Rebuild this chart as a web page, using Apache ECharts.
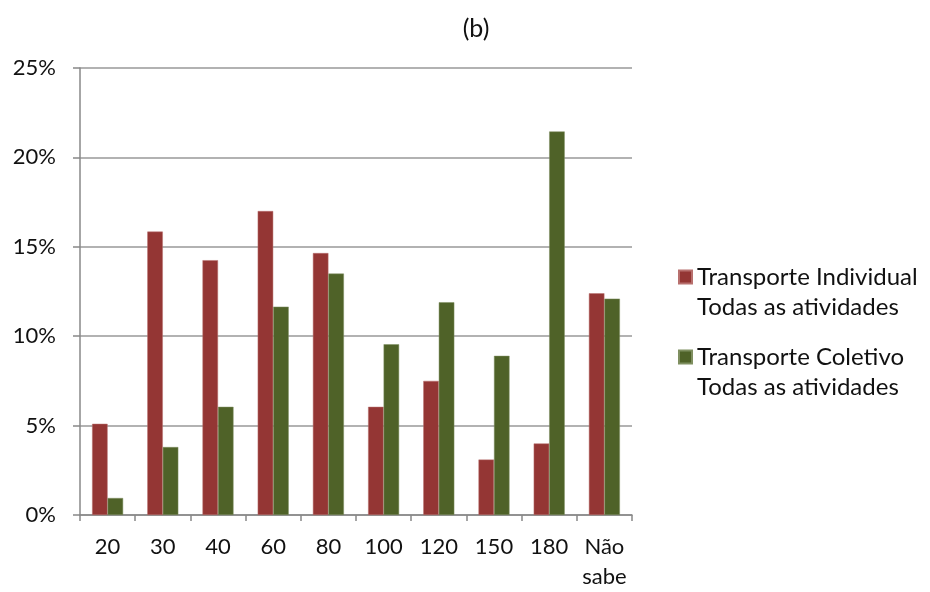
<!DOCTYPE html>
<html><head><meta charset="utf-8">
<script src="https://cdn.jsdelivr.net/npm/echarts@6/dist/echarts.min.js"></script>
<style>html,body{margin:0;padding:0;background:#fff}#c{width:930px;height:592px}</style>
</head><body><div id="c"></div>
<script>
const categories = ['20','30','40','60','80','100','120','150','180','Não\nsabe'];
const individual = [5.1, 15.85, 14.25, 17.0, 14.65, 6.05, 7.5, 3.1, 4.0, 12.4];
const coletivo = [0.95, 3.8, 6.05, 11.65, 13.5, 9.55, 11.9, 8.9, 21.45, 12.1];
const seriesNames = ['Transporte Individual\nTodas as atividades', 'Transporte Coletivo\nTodas as atividades'];
const yTicks = [0, 5, 10, 15, 20, 25];

const font = 'Lato, "Open Sans", sans-serif';
const chart = echarts.init(document.getElementById('c'));
chart.setOption({
  animation: false,
  backgroundColor: '#fff',
  title: { text: '(b)', left: 471, top: 11, textAlign: 'center',
    textStyle: { fontFamily: font, fontSize: 25, fontWeight: 'normal', color: '#111' } },
  grid: { left: 80, right: 298, top: 68, bottom: 75 },
  legend: {
    orient: 'vertical', left: 673, top: 227, itemWidth: 13, itemHeight: 13, itemGap: -10,
    icon: 'rect',
    formatter: name => ' \n' + name,
    textStyle: { fontFamily: font, fontSize: 24, color: '#111', lineHeight: 30 },
    data: seriesNames
  },
  xAxis: {
    type: 'category', data: categories,
    axisLine: { lineStyle: { color: '#888', width: 1.5 } },
    axisTick: { show: true, length: 6, lineStyle: { color: '#888', width: 1.5 } },
    axisLabel: { interval: 0, hideOverlap: false, fontFamily: font, fontSize: 22, color: '#111', margin: 17, lineHeight: 30 }
  },
  yAxis: {
    type: 'value', min: 0, max: 25, interval: 5,
    axisLine: { show: true, lineStyle: { color: '#888', width: 1.5 } },
    axisTick: { show: true, inside: false, length: 7, lineStyle: { color: '#888', width: 1.5 } },
    splitLine: { lineStyle: { color: '#999', width: 1.5 } },
    axisLabel: { fontFamily: font, fontSize: 22, color: '#111', margin: 24,
      formatter: v => yTicks.includes(v) ? v + '%' : '' }
  },
  series: [
    { name: seriesNames[0], type: 'bar', data: individual, barWidth: 15.5, barGap: '0%',
      itemStyle: { color: '#943634', borderColor: '#b8706e', borderWidth: 0.5 } },
    { name: seriesNames[1], type: 'bar', data: coletivo, barWidth: 15.5,
      itemStyle: { color: '#4f6228', borderColor: '#7f8f60', borderWidth: 0.5 } }
  ]
});
</script></body></html>
